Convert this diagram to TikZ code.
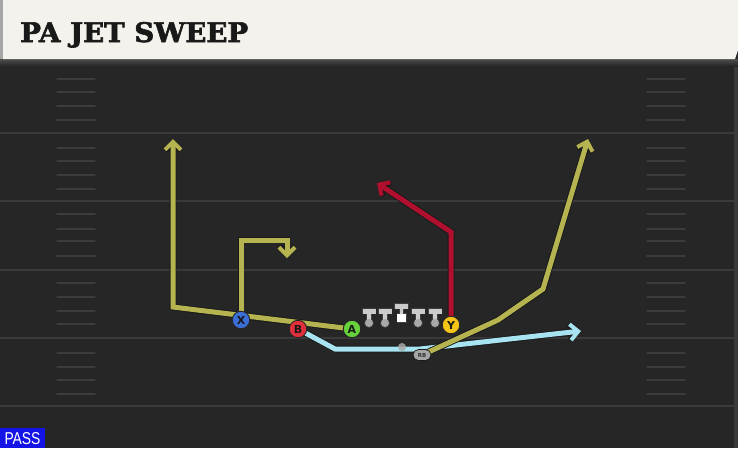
\documentclass[tikz,border=0pt]{standalone}
\usepackage{fontspec}
\setmainfont{DejaVu Sans}
\newfontfamily\titlefont{DejaVu Serif}[UprightFont={* Bold}, FakeBold=2.2]
\newfontfamily\passfont{Liberation Sans}
\usetikzlibrary{arrows.meta,shapes.misc}
\definecolor{fieldbg}{HTML}{262626}
\definecolor{yardln}{HTML}{3A3A3A}
\definecolor{hashln}{HTML}{3C3C3C}
\definecolor{headcol}{HTML}{F4F2EC}
\definecolor{routeolive}{HTML}{B5B450}
\definecolor{routered}{HTML}{B0102E}
\definecolor{lblue}{HTML}{A7E3F0}
\definecolor{pblue}{HTML}{3B6FD6}
\definecolor{pred}{HTML}{E0303C}
\definecolor{pgreen}{HTML}{66D13A}
\definecolor{pyellow}{HTML}{F5C518}
\definecolor{lmgray}{HTML}{CBCBCB}
\definecolor{lmdark}{HTML}{A8A8A8}
\definecolor{passblue}{HTML}{1414E6}
\pgfdeclarelayer{field}
\pgfdeclarelayer{routes}
\pgfsetlayers{field,routes,main}
\tikzset{
  yardline/.style={draw=yardln, line width=1.6pt},
  hashmark/.style={draw=hashln, line width=1.4pt, line cap=round},
  routeline/.style={line width=5pt, line join=miter, miter limit=4,
    preaction={draw=black!90, line width=6.8pt}},
  tip/.style={-{Straight Barb[length=8pt,width=16pt,line width=0pt 0.8]}},
  player/.style={circle, draw=black!85, line width=0.9pt, minimum size=17.5pt,
    inner sep=0pt, font=\bfseries\fontsize{11}{11}\selectfont, text=black!90},
  lineman/.pic={
    \fill[black!75] (-7.3,-14.8) rectangle (7.3,-8.7);
    \fill[black!75] (-2.7,-9) rectangle (2.7,-3);
    \fill[black!75] (0,0) circle (4.9);
    \fill[lmgray] (-6.5,-14) rectangle (6.5,-9.5);
    \fill[lmgray] (-1.8,-10) rectangle (1.8,-3);
    \fill[lmdark] (0,0) circle (4);
  },
  centerman/.pic={
    \fill[black!75] (-7.3,-14.8) rectangle (7.3,-8.7);
    \fill[black!75] (-2.7,-9) rectangle (2.7,-4);
    \fill[black!75] (-5,-5) rectangle (5,5);
    \fill[lmgray] (-6.5,-14) rectangle (6.5,-9.5);
    \fill[lmgray] (-1.8,-10) rectangle (1.8,-4);
    \fill[white] (-4.2,-4.2) rectangle (4.2,4.2);
  },
}
\begin{document}
\begin{tikzpicture}[x=1pt,y=-1pt]
\useasboundingbox (0,0) rectangle (738,448);
\begin{pgfonlayer}{field}
\fill[fieldbg] (0,0) rectangle (738,448);
\foreach \yy in {65,133,201,270,338,406}
  \draw[yardline] (0,\yy) -- (738,\yy);
\foreach \yy in {79,92,106,120,148,161,175,189,214,229,241,256,283,297,311,324,353,367,380,394}{
  \draw[hashmark] (57,\yy) -- (95,\yy);
  \draw[hashmark] (647,\yy) -- (685,\yy);
}
\fill[yardln] (734,60) rectangle (738,448);
\shade[top color=black!70, bottom color=fieldbg] (0,59) rectangle (738,66);
\fill[headcol] (3,0) -- (738,0) -- (738,50) -- (735,59) -- (3,59) -- cycle;
\fill[black!35] (0,0) rectangle (3,59);
\end{pgfonlayer}

\node[anchor=base west, inner sep=0pt, text=black!90] (title) at (20,42)
  {\resizebox{228pt}{20pt}{\titlefont PA JET SWEEP}};

\fill[passblue] (0,428) rectangle (45,448);
\node[inner sep=0pt, text=white] (pass) at (22.5,439)
  {\resizebox{36pt}{12pt}{\passfont PASS}};

% players
\node[player, fill=pblue] (X) at (241,320) {X};
\node[player, fill=pred] (B) at (298,329) {B};
\node[player, fill=pgreen] (A) at (352,329) {A};
\node[player, fill=pyellow] (Y) at (451,325) {Y};
\node[rounded rectangle, draw=black!90, line width=0.7pt, fill=black!35,
  minimum width=18pt, minimum height=11pt, inner sep=0pt,
  font=\bfseries\fontsize{5.5}{5.5}\selectfont, text=black!80] (RB) at (422,355) {RB};
\node[circle, fill=lmdark, fill opacity=0.85, minimum size=8pt, inner sep=0pt] (QB) at (402,347) {};

\pic at (369,323) {lineman};
\pic at (385,323) {lineman};
\pic at (401.5,318) {centerman};
\pic at (418,323) {lineman};
\pic at (435,323) {lineman};

% route corners
\coordinate (c1) at (173,307);
\coordinate (c1end) at (173,139);
\coordinate (x1) at (241,240);
\coordinate (x2) at (287,240);
\coordinate (x2end) at (287,258);
\coordinate (y1) at (451,232);
\coordinate (y1end) at (377,183);
\coordinate (r1) at (498,320);
\coordinate (r2) at (543,289);
\coordinate (r2end) at (588,139);
\coordinate (b1) at (335,349);
\coordinate (b2) at (420,349);
\coordinate (b2end) at (581,331);

\begin{pgfonlayer}{routes}
\draw[routeline, draw=routeolive, tip] (A.center) -- (c1) -- (c1end);
\draw[routeline, draw=routeolive, tip] (X.center) -- (x1) -- (x2) -- (x2end);
\draw[routeline, draw=routered, tip] (Y.center) -- (y1) -- (y1end);
\draw[routeline, draw=lblue, tip] (B.center) -- (b1) -- (b2) -- (b2end);
\draw[routeline, draw=routeolive, tip] (RB.center) -- (r1) -- (r2) -- (r2end);
\end{pgfonlayer}
\end{tikzpicture}
\end{document}
